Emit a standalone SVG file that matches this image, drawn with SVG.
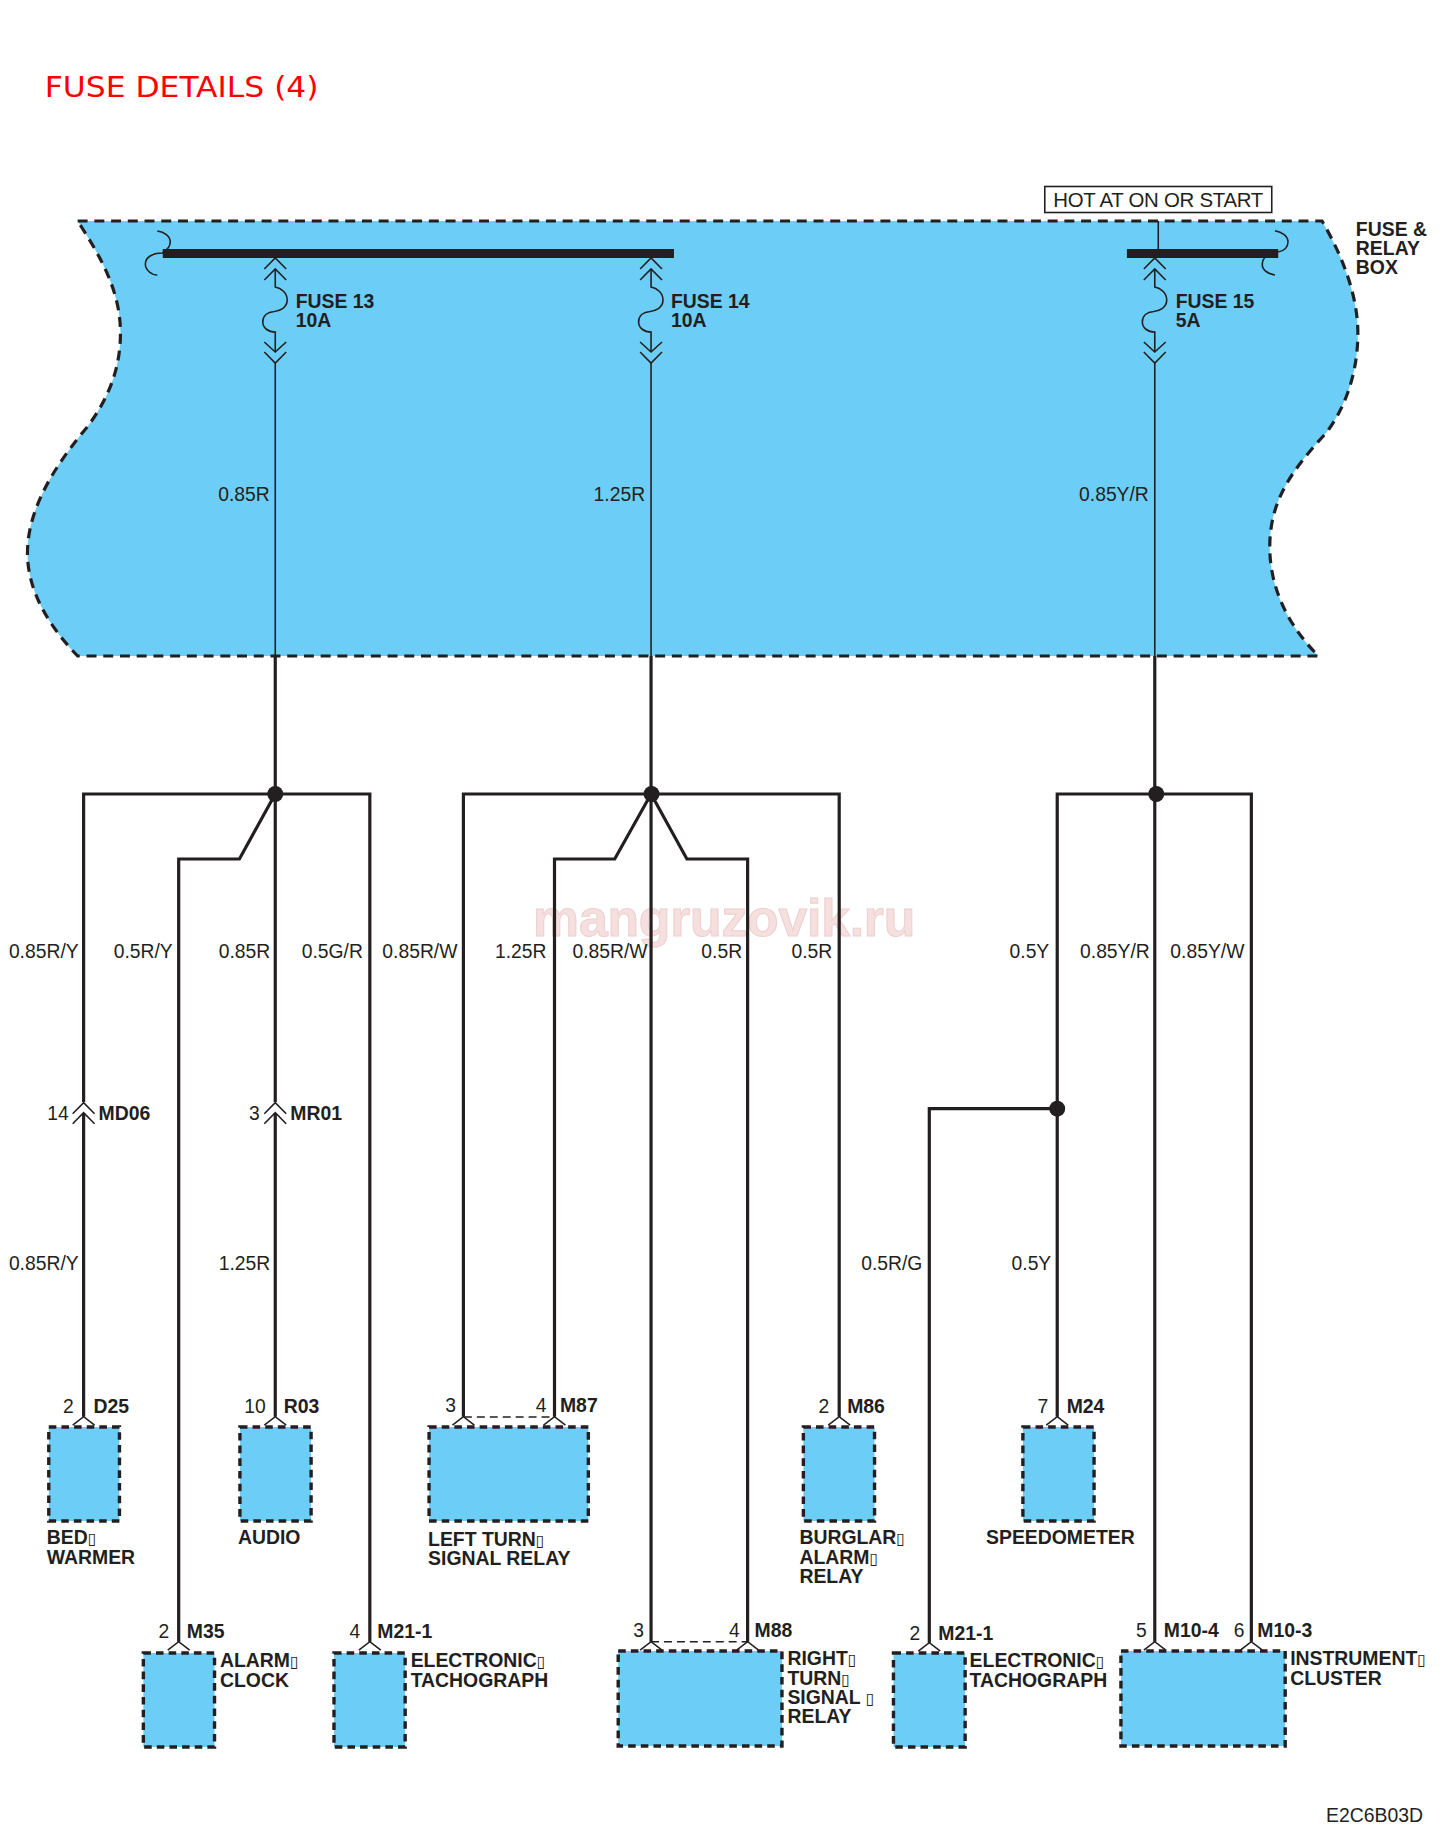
<svg xmlns="http://www.w3.org/2000/svg" width="1446" height="1843" viewBox="0 0 1446 1843">
<defs>
<style>
text{font-family:"Liberation Sans","DejaVu Sans",sans-serif;fill:#231f20}
.r{font-size:19.4px}
.e{text-anchor:end}
.b{font-size:19.5px;font-weight:bold}
.t{font-size:16px}
.box{fill:#6ccdf6;stroke:#231f20;stroke-width:3.4;stroke-dasharray:7.6 5.1}
.w{fill:none;stroke:#231f20;stroke-width:3.2;stroke-linejoin:miter}
.n{fill:none;stroke:#231f20;stroke-width:1.6}
.d{fill:none;stroke:#231f20;stroke-width:1.5;stroke-dasharray:8 5}
.j{fill:#231f20}
</style>
<path id="chev" d="M-11,8.5 L0,0 L11,8.5" fill="none" stroke="#231f20" stroke-width="1.6"/>
<g id="fuse">
<path d="M-11,269 L0,258 L11,269 M-11,280 L0,269 L11,280 M-11,342 L0,352 L11,342 M-11,352 L0,363 L11,352" class="n"/>
<path d="M0,269 V287 C6,288 12,293 12,300 C12,308 4,311 -1,311.5 C-8,312 -12.5,316 -12.5,322 C-12.5,328 -7,332 0,332 V352" class="n"/>
</g>
<path id="inline" d="M-11,11 L0,0 L11,11 M-11,21 L0,10 L11,21" class="n"/>
</defs>
<rect width="1446" height="1843" fill="#fff"/>
<g transform="scale(0.9955 1)">
<text x="45" y="96.7" font-size="28.5" textLength="275" lengthAdjust="spacingAndGlyphs" style="font-family:'DejaVu Sans',sans-serif;fill:#ff0000">FUSE DETAILS (4)</text>

<g id="fuse-relay-box">
<path d="M78,221 L1328,221 C1348,255 1364,295 1364,333 C1364,375 1350,410 1332,433 C1298,470 1275.5,500 1275.5,547 C1275.5,590 1296,628 1324.5,656 L78,656 C48,625 27.6,590 27.6,553 C27.6,505 60,460 87.6,427 C108,400 121,370 121,333 C121,290 100,255 78,221 Z" fill="#6ccdf6" stroke="#231f20" stroke-width="3.2" stroke-dasharray="10 6.8"/>
<rect x="163.5" y="249" width="513.5" height="9" class="j"/>
<rect x="1132" y="249" width="152" height="9" class="j"/>
<path d="M158,231 C165,232 171,236 171,242 C171,247 168,250 163,253 C152,253 146,258 146,264 C146,270 152,275 158,275" class="n"/>
<path d="M1280.7,230.7 C1288,232 1293.8,236 1293.8,242 C1293.8,247 1290,251 1284,252 M1270.4,258 C1268,260 1268,262 1268,265 C1268,270 1274,274 1280.7,275" class="n"/>
<path d="M1163.5,221 V249" class="n"/>
<use href="#fuse" x="276.5"/>
<use href="#fuse" x="654"/>
<use href="#fuse" x="1160"/>
<text class="b" x="297" y="307.7">FUSE 13</text><text class="b" x="297" y="327">10A</text>
<text class="b" x="674" y="307.7">FUSE 14</text><text class="b" x="674" y="327">10A</text>
<text class="b" x="1181" y="307.7">FUSE 15</text><text class="b" x="1181" y="327">5A</text>
<text class="b" x="1362" y="236">FUSE &amp;</text><text class="b" x="1362" y="255">RELAY</text><text class="b" x="1362" y="274">BOX</text>
</g>
<g id="hot-label">
<rect x="1049.5" y="186.5" width="228" height="26" fill="#fff" stroke="#231f20" stroke-width="1.6"/>
<text x="1058" y="207.3" font-size="20.5" textLength="211">HOT AT ON OR START</text>
</g>

<text id="watermark" x="535.5" y="935.7" font-size="52" font-weight="bold" textLength="384" style="fill:#f6dfdf;stroke:#ecd0d0;stroke-width:1">mangruzovik.ru</text>

<g id="connectors">
<path class="n" d="M276.5,363 V656 M654,363 V656 M1160,363 V656"/>
<path class="w" d="M276.5,656 V794 M654,656 V794 M1160,656 V794"/>
<path class="w" d="M84,1102 V794 H371.5 V1641.7"/>
<path class="w" d="M179.5,1641.7 V859 H240.5 L276.5,794 V1102"/>
<path class="w" d="M84,1113 V1416.7 M276.5,1113 V1416.7"/>
<path class="w" d="M465.5,1416.7 V794 H843 V1416.7"/>
<path class="w" d="M557,1416.7 V859 H617.5 L654,794 V1641.7"/>
<path class="w" d="M654,794 L690,859 H751 V1641.7"/>
<path class="w" d="M1160,794 V1641.7"/>
<path class="w" d="M1062,1416.7 V794 H1257 V1641.7"/>
<path class="w" d="M1062,1108.7 H933.5 V1642.7"/>
<path class="d" d="M466,1417 H557 M654,1641.7 H751"/>
<circle class="j" cx="276.5" cy="794" r="8"/>
<circle class="j" cx="654.5" cy="794" r="8"/>
<circle class="j" cx="1161.5" cy="794" r="8"/>
<circle class="j" cx="1062" cy="1108.7" r="8"/>
</g>

<g id="wire-labels">
<text class="r e" x="271" y="501">0.85R</text>
<text class="r e" x="648" y="501">1.25R</text>
<text class="r e" x="1154" y="501">0.85Y/R</text>
<text class="r e" x="79" y="958">0.85R/Y</text>
<text class="r e" x="173.5" y="958">0.5R/Y</text>
<text class="r e" x="271.5" y="958">0.85R</text>
<text class="r e" x="364.5" y="958">0.5G/R</text>
<text class="r e" x="459.5" y="958">0.85R/W</text>
<text class="r e" x="549" y="958">1.25R</text>
<text class="r e" x="650.5" y="958">0.85R/W</text>
<text class="r e" x="745.5" y="958">0.5R</text>
<text class="r e" x="836" y="958">0.5R</text>
<text class="r e" x="1054" y="958">0.5Y</text>
<text class="r e" x="1155" y="958">0.85Y/R</text>
<text class="r e" x="1250" y="958">0.85Y/W</text>
<text class="r e" x="79" y="1270">0.85R/Y</text>
<text class="r e" x="271.5" y="1270">1.25R</text>
<text class="r e" x="926.5" y="1270">0.5R/G</text>
<text class="r e" x="1056" y="1270">0.5Y</text>
</g>

<g id="MD06"><use href="#inline" x="84" y="1102.7"/><text class="r e" x="69" y="1120">14</text><text class="b" x="99" y="1120">MD06</text></g>
<g id="MR01"><use href="#inline" x="276.5" y="1102.7"/><text class="r e" x="261" y="1120">3</text><text class="b" x="291.7" y="1120">MR01</text></g>

<g id="D25">
<rect class="box" x="49" y="1427" width="71" height="94"/><use href="#chev" x="84" y="1416.7"/>
<text class="r e" x="74" y="1413">2</text><text class="b" x="94" y="1413">D25</text>
<text class="b" x="47" y="1544">BED<tspan class="t">▯</tspan></text><text class="b" x="47" y="1564">WARMER</text>
</g>
<g id="R03">
<rect class="box" x="241" y="1427" width="71.5" height="94"/><use href="#chev" x="276.5" y="1416.7"/>
<text class="r e" x="267" y="1413">10</text><text class="b" x="285" y="1413">R03</text>
<text class="b" x="239" y="1544">AUDIO</text>
</g>
<g id="M87">
<rect class="box" x="431" y="1427" width="160" height="94"/><use href="#chev" x="465.5" y="1416.7"/><use href="#chev" x="557" y="1416.7"/>
<text class="r e" x="458" y="1411.7">3</text><text class="r e" x="549" y="1411.7">4</text><text class="b" x="562.5" y="1412">M87</text>
<text class="b" x="430" y="1545.7">LEFT TURN<tspan class="t">▯</tspan></text><text class="b" x="430" y="1565.3">SIGNAL RELAY</text>
</g>
<g id="M86">
<rect class="box" x="807" y="1427" width="71.5" height="94"/><use href="#chev" x="843" y="1416.7"/>
<text class="r e" x="833" y="1413">2</text><text class="b" x="851" y="1413">M86</text>
<text class="b" x="803" y="1544">BURGLAR<tspan class="t">▯</tspan></text><text class="b" x="803" y="1564">ALARM<tspan class="t">▯</tspan></text><text class="b" x="803" y="1583">RELAY</text>
</g>
<g id="M24">
<rect class="box" x="1027.5" y="1427" width="71.5" height="94"/><use href="#chev" x="1062" y="1416.7"/>
<text class="r e" x="1053" y="1412.7">7</text><text class="b" x="1071.5" y="1412.7">M24</text>
<text class="b" x="990.5" y="1544">SPEEDOMETER</text>
</g>
<g id="M35">
<rect class="box" x="144" y="1653" width="71.5" height="94"/><use href="#chev" x="179.5" y="1641.7"/>
<text class="r e" x="170" y="1637.7">2</text><text class="b" x="187.7" y="1637.7">M35</text>
<text class="b" x="221" y="1667">ALARM<tspan class="t">▯</tspan></text><text class="b" x="221" y="1686.7">CLOCK</text>
</g>
<g id="M21-1-left">
<rect class="box" x="335.5" y="1653" width="71.5" height="94"/><use href="#chev" x="371.5" y="1641.7"/>
<text class="r e" x="362" y="1637.7">4</text><text class="b" x="379" y="1637.7">M21-1</text>
<text class="b" x="412.5" y="1667">ELECTRONIC<tspan class="t">▯</tspan></text><text class="b" x="412.5" y="1686.7">TACHOGRAPH</text>
</g>
<g id="M88">
<rect class="box" x="621" y="1651" width="164.5" height="95"/><use href="#chev" x="654" y="1641.7"/><use href="#chev" x="751" y="1641.7"/>
<text class="r e" x="647" y="1636.7">3</text><text class="r e" x="743" y="1636.7">4</text><text class="b" x="758" y="1636.7">M88</text>
<text class="b" x="791" y="1665.3">RIGHT<tspan class="t">▯</tspan></text><text class="b" x="791" y="1685">TURN<tspan class="t">▯</tspan></text><text class="b" x="791" y="1704">SIGNAL <tspan class="t">▯</tspan></text><text class="b" x="791" y="1723">RELAY</text>
</g>
<g id="M21-1-right">
<rect class="box" x="897.5" y="1653" width="72" height="94"/><use href="#chev" x="933.5" y="1642.7"/>
<text class="r e" x="924.5" y="1640">2</text><text class="b" x="942.5" y="1640">M21-1</text>
<text class="b" x="974" y="1667">ELECTRONIC<tspan class="t">▯</tspan></text><text class="b" x="974" y="1686.7">TACHOGRAPH</text>
</g>
<g id="M10">
<rect class="box" x="1126" y="1651" width="165" height="95"/><use href="#chev" x="1160" y="1641.7"/><use href="#chev" x="1257" y="1641.7"/>
<text class="r e" x="1152" y="1636.7">5</text><text class="b" x="1169" y="1636.7">M10-4</text>
<text class="r e" x="1250" y="1636.7">6</text><text class="b" x="1263" y="1636.7">M10-3</text>
<text class="b" x="1296" y="1665">INSTRUMENT<tspan class="t">▯</tspan></text><text class="b" x="1296" y="1685">CLUSTER</text>
</g>
<text x="1332" y="1822" font-size="19.5">E2C6B03D</text>
</g>
</svg>
